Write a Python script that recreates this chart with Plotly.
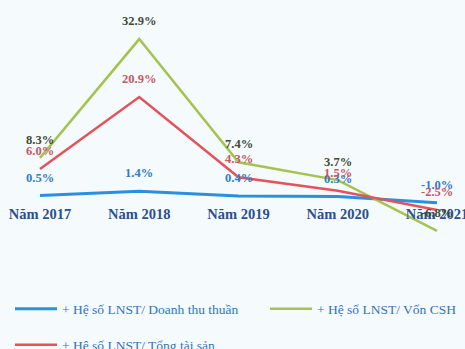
import plotly.graph_objects as go

years = ["Năm 2017", "Năm 2018", "Năm 2019", "Năm 2020", "Năm 2021"]
lnst_doanh_thu = [0.5, 1.4, 0.4, 0.3, -1.0]
lnst_von_csh = [8.3, 32.9, 7.4, 3.7, -6.8]
lnst_tong_tai_san = [6.0, 20.9, 4.3, 1.5, -2.5]

series = [
    ("+ Hệ số LNST/ Doanh thu thuần", lnst_doanh_thu, "#2b8fe0", "#2f7cc8", 3, "legend"),
    ("+ Hệ số LNST/ Vốn CSH", lnst_von_csh, "#a5c34f", "#3e4a36", 2.5, "legend3"),
    ("+ Hệ số LNST/ Tổng tài sản", lnst_tong_tai_san, "#e2535b", "#c25866", 2.5, "legend2"),
]

W, H = 465, 349
fig = go.Figure()
annotations = []
for name, vals, color, label_color, width, leg in series:
    fig.add_trace(go.Scatter(
        x=years, y=vals, mode="lines", name=name,
        line=dict(color=color, width=width),
        legend=leg, showlegend=True,
    ))
    for yr, v in zip(years, vals):
        annotations.append(dict(
            x=yr, y=v, text=f"{v:.1f}%", showarrow=False, yshift=18,
            font=dict(family="Liberation Serif", size=12.5, color=label_color, weight="bold"),
        ))

# vertical scale: zero line sits at 198 px, ~4.83 px per percentage point
px_per_unit = 4.83
zero_px = 198.0
y_top = zero_px / px_per_unit
y_bot = -(H - zero_px) / px_per_unit

# horizontal scale: first category at 40 px, 99.25 px between categories
x_step = 99.25
x_first = 40
x_lo = -x_first / x_step
x_hi = (W - x_first) / x_step

legend_font = dict(family="Liberation Serif", size=13.5, color="#2f74c0")


def legend_at(x_px, y_px):
    return dict(
        orientation="h", x=x_px / W, xanchor="left", y=(H - y_px) / H, yanchor="middle",
        itemwidth=42, font=legend_font, bgcolor="rgba(0,0,0,0)",
    )


fig.update_layout(
    width=W, height=H,
    margin=dict(l=0, r=0, t=0, b=0, autoexpand=False),
    showlegend=True,
    paper_bgcolor="#f5fafc", plot_bgcolor="#f5fafc",
    annotations=annotations,
    xaxis=dict(
        type="category", range=[x_lo, x_hi], showgrid=False, zeroline=False,
        showline=False, ticks="", anchor="free", position=(H - 203) / H,
        tickfont=dict(family="Liberation Serif", size=14.5, color="#2a4f8f", weight="bold"),
    ),
    yaxis=dict(range=[y_bot, y_top], showgrid=False, zeroline=False,
               showticklabels=False, showline=False),
    legend=legend_at(10, 309),
    legend3=legend_at(265, 309),
    legend2=legend_at(10, 345),
)

fig.write_html("out.html")
